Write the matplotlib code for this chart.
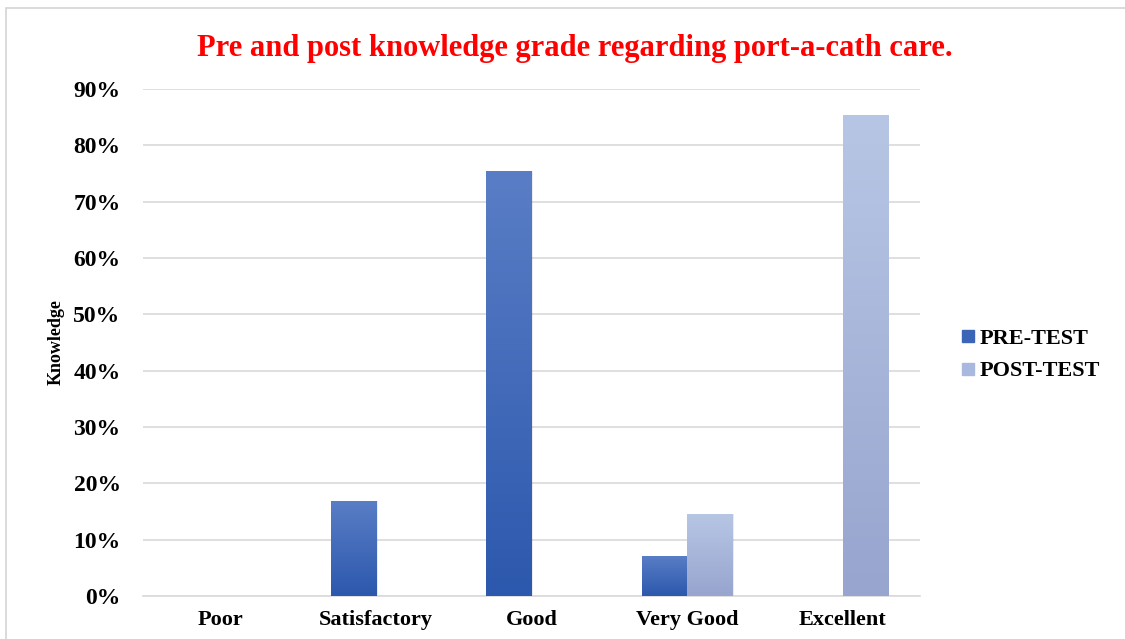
import numpy as np
import matplotlib
matplotlib.use("Agg")
from matplotlib import pyplot as plt
from matplotlib.colors import LinearSegmentedColormap
from matplotlib.patches import Rectangle
from matplotlib.lines import Line2D

categories = ["Poor", "Satisfactory", "Good", "Very Good", "Excellent"]
pre_test = [0.0, 16.9, 75.5, 7.1, 0.0]
post_test = [0.0, 0.0, 0.0, 14.6, 85.3]
series_names = ["PRE-TEST", "POST-TEST"]
yticks = [0, 10, 20, 30, 40, 50, 60, 70, 80, 90]

plt.rcParams['font.family'] = ['Liberation Serif', 'DejaVu Serif']

fig = plt.figure(figsize=(11.25, 6.39), dpi=100)
ax = fig.add_axes([0.127, 0.067, 0.691, 0.794])

# light frame round the whole chart
fig.patches.append(Rectangle((0.005, -0.01), 1.1, 0.997, transform=fig.transFigure,
                             fill=False, edgecolor='#d4d4d4', lw=1.2))

pre_cmap = LinearSegmentedColormap.from_list("pre", ["#2c58ad", "#5a7ec6"])
post_cmap = LinearSegmentedColormap.from_list("post", ["#97a5cf", "#b8c6e5"])

x = np.arange(len(categories))
w = 0.29
grad = np.linspace(0, 1, 256).reshape(-1, 1)

def gradient_bars(xs, vals, cmap):
    bars = ax.bar(xs, vals, width=w, color='none', edgecolor='none', zorder=3)
    for b, v in zip(bars, vals):
        if v <= 0:
            continue
        # soft shadow
        ax.add_patch(Rectangle((b.get_x() + 0.012, 0), b.get_width(), v,
                               facecolor='#000000', alpha=0.08, edgecolor='none', zorder=2))
        im = ax.imshow(grad, cmap=cmap, aspect='auto', origin='lower',
                       extent=[b.get_x(), b.get_x() + b.get_width(), 0, v], zorder=3)
        im.set_clip_path(b)
    return bars

gradient_bars(x - w / 2, pre_test, pre_cmap)
gradient_bars(x + w / 2, post_test, post_cmap)

ax.set_xlim(-0.5, len(categories) - 0.5)
ax.set_ylim(0, 90)
ax.set_yticks(yticks)
ax.set_yticklabels([f"{t}%" for t in yticks], fontsize=17, fontweight='bold')
ax.set_xticks(x)
ax.set_xticklabels(categories, fontsize=16, fontweight='bold')
ax.tick_params(length=0, pad=16)
ax.tick_params(axis='x', pad=10)
ax.grid(axis='y', color='#d9d9d9', lw=1.2, zorder=0)
ax.set_axisbelow(True)
for s in ['top', 'right', 'left']:
    ax.spines[s].set_visible(False)
ax.spines['bottom'].set_color('#d9d9d9')
ax.spines['bottom'].set_linewidth(1.2)

ax.set_ylabel("Knowledge", fontsize=13, fontweight='bold', labelpad=6)

fig.text(0.511, 0.924, "Pre and post knowledge grade regarding port-a-cath care.",
         color='#ff0000', fontsize=22, fontweight='bold', ha='center', va='center')

handles = [Line2D([], [], marker='s', ls='none', markersize=8, color=c)
           for c in ["#3b66b8", "#a9b8de"]]
fig.legend(handles, series_names, loc='center left', bbox_to_anchor=(0.831, 0.445),
           frameon=False, prop={'size': 16, 'weight': 'bold'}, handletextpad=-0.1,
           handlelength=1.2, labelspacing=0.55)

fig.savefig("out.png", dpi=100)
